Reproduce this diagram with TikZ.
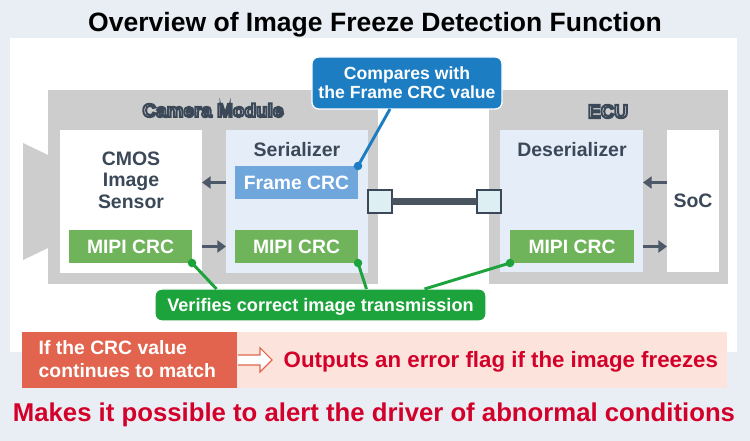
\documentclass[tikz,border=0pt]{standalone}
\usepackage{fontspec}
\setmainfont{Liberation Sans}
\usetikzlibrary{arrows.meta,calc}
\definecolor{bgblue}{HTML}{E9EEF5}
\definecolor{boxgray}{HTML}{CDCDCD}
\definecolor{labelgray}{HTML}{DCDCDC}
\definecolor{lightblue}{HTML}{E4EDF8}
\definecolor{framecrc}{HTML}{6FA6DC}
\definecolor{mipigreen}{HTML}{6FB45A}
\definecolor{slate}{HTML}{3B4858}
\definecolor{arrgray}{HTML}{4D5868}
\definecolor{callblue}{HTML}{1C7DC3}
\definecolor{callgreen}{HTML}{1DA33C}
\definecolor{redbox}{HTML}{E2644E}
\definecolor{pinkband}{HTML}{FCE3DB}
\definecolor{redtext}{HTML}{D3002A}
\definecolor{plugblue}{HTML}{DDEFF3}
\definecolor{cablegray}{HTML}{4A5360}
\newcommand\outlined[1]{\textcolor{labelgray}{\special{pdf:literal direct 2 Tr 1.5 w 0.231 0.282 0.345 RG}#1\special{pdf:literal direct 0 Tr}}}
\begin{document}
\begin{tikzpicture}[x=0.75pt,y=-0.75pt,
  panel/.style={rectangle,inner sep=0pt,outer sep=0pt},
  txt/.style={font=\bfseries\fontsize{14.6}{16.1}\selectfont,text=slate},
  outl/.style={font=\bfseries\fontsize{14.2}{16}\selectfont,anchor=base},
  crc/.style={panel,text=white,font=\bfseries\fontsize{14.5}{16}\selectfont,
    minimum width=92.25pt,minimum height=24.75pt,text height=10.4pt,text depth=0pt},
  mipi/.style={crc,fill=mipigreen},
  darr/.style={draw=arrgray,line width=2.2pt,-{Triangle[length=6.5pt,width=9pt]}},
  plug/.style={panel,draw=slate,line width=1pt,fill=plugblue,minimum width=18pt,minimum height=17.25pt},
  callout/.style={panel,rounded corners=5pt,draw=white,line width=1pt,text=white,
    font=\bfseries\fontsize{13.2}{14.5}\selectfont,align=center},
  cline/.style={line width=2.2pt}]
\fill[bgblue] (0,0) rectangle (750,441);
\fill[white] (10,38) rectangle (737,352);
\node[font=\bfseries\fontsize{19.9}{22}\selectfont,anchor=base] (title) at (375,32)
  {Overview of Image Freeze Detection Function};
% camera module
\fill[boxgray] (23,143) -- (48,155) -- (48,248) -- (23,260) -- cycle;
\node[panel,fill=boxgray,minimum width=247.5pt,minimum height=145.5pt] (cam) at (213,187) {};
\node[outl] (camlbl) at (213,117) {\outlined{Camera Module}};
\node[panel,fill=white,minimum width=106.5pt,minimum height=107.25pt] (cmos) at (131,201.5) {};
\node[txt,align=center] (cmoslbl) at (131,180) {CMOS\\Image\\Sensor};
\node[panel,fill=lightblue,minimum width=106.5pt,minimum height=107.25pt] (ser) at (297,201.5) {};
\node[txt,anchor=base] (serlbl) at (297,157) {Serializer};
\node[crc,fill=framecrc] (fcrc) at (296.5,182.5) {Frame CRC};
\node[mipi] (mipi1) at (130.5,246.5) {MIPI CRC};
\node[mipi] (mipi2) at (296.5,246.5) {MIPI CRC};
\draw[darr] (ser.west |- fcrc) -- (cmos.east |- fcrc);
\draw[darr] (cmos.east |- mipi1) -- (ser.west |- mipi2);
% ECU
\node[panel,fill=boxgray,minimum width=179.25pt,minimum height=145.5pt] (ecu) at (608.5,187) {};
\node[outl] (eculbl) at (608,118) {\outlined{ECU}};
\node[panel,fill=lightblue,minimum width=107.25pt,minimum height=106.5pt] (des) at (571.5,201) {};
\node[txt,anchor=base] (deslbl) at (572,157) {Deserializer};
\node[panel,fill=white,txt,minimum width=39pt,minimum height=106.5pt,text height=10.4pt,text depth=0pt] (soc) at (693,201) {SoC};
\node[mipi,minimum width=93pt] (mipi3) at (572,246.5) {MIPI CRC};
\draw[darr] (soc.west |- fcrc) -- (des.east |- fcrc);
\draw[darr] (des.east |- mipi3) -- (soc.west |- mipi3);
% cable
\node[plug] (plugA) at (380,201.5) {};
\node[plug] (plugB) at (489,201.5) {};
\draw[cablegray,line width=5.25pt] (plugA.east) -- (plugB.west);
% callouts
\node[callout,fill=callblue,minimum width=142.5pt,minimum height=39pt] (cmp) at (407,83)
  {Compares with\\the Frame CRC value};
\draw[cline,callblue] (fcrc.north east) -- ($(cmp.south)+(-17,0)$);
\fill[callblue] (fcrc.north east) circle (3.2pt);
\node[callout,fill=callgreen,font=\bfseries\fontsize{13.6}{15}\selectfont,
  minimum width=248.25pt,minimum height=24pt,text height=9.8pt,text depth=0pt] (verif) at (320.5,305)
  {Verifies correct image transmission};
\draw[cline,callgreen] (mipi1.south east) -- ($(verif.north)+(-104,0)$);
\draw[cline,callgreen] (mipi2.south east) -- ($(verif.north)+(46,0)$);
\draw[cline,callgreen] (mipi3.south west) -- ($(verif.north)+(104,0)$);
\fill[callgreen] (mipi1.south east) circle (3.2pt);
\fill[callgreen] (mipi2.south east) circle (3.2pt);
\fill[callgreen] (mipi3.south west) circle (3.2pt);
% result
\fill[pinkband] (237,332) rectangle (727,388);
\node[panel,fill=redbox,minimum width=161.25pt,minimum height=42pt] (cond) at (129.5,360) {};
\node[font=\bfseries\fontsize{14.5}{17}\selectfont,text=white,align=left,anchor=west] (condlbl) at (34,359)
  {If the CRC value\\continues to match};
\fill[white] (238,355) -- (260,355) -- (260,348) -- (272,360) -- (260,372) -- (260,365) -- (238,365) -- cycle;
\draw[redbox,line width=0.8pt,line join=miter] (238,355) -- (260,355) -- (260,348) -- (272,360) -- (260,372) -- (260,365) -- (238,365);
\node[font=\bfseries\fontsize{16.7}{18}\selectfont,text=redtext,anchor=base west] (outlbl) at (279,368)
  {Outputs an error flag if the image freezes};
\node[font=\bfseries\fontsize{19.3}{22}\selectfont,text=redtext,anchor=base] (alert) at (374,422)
  {Makes it possible to alert the driver of abnormal conditions};
\end{tikzpicture}
\end{document}
